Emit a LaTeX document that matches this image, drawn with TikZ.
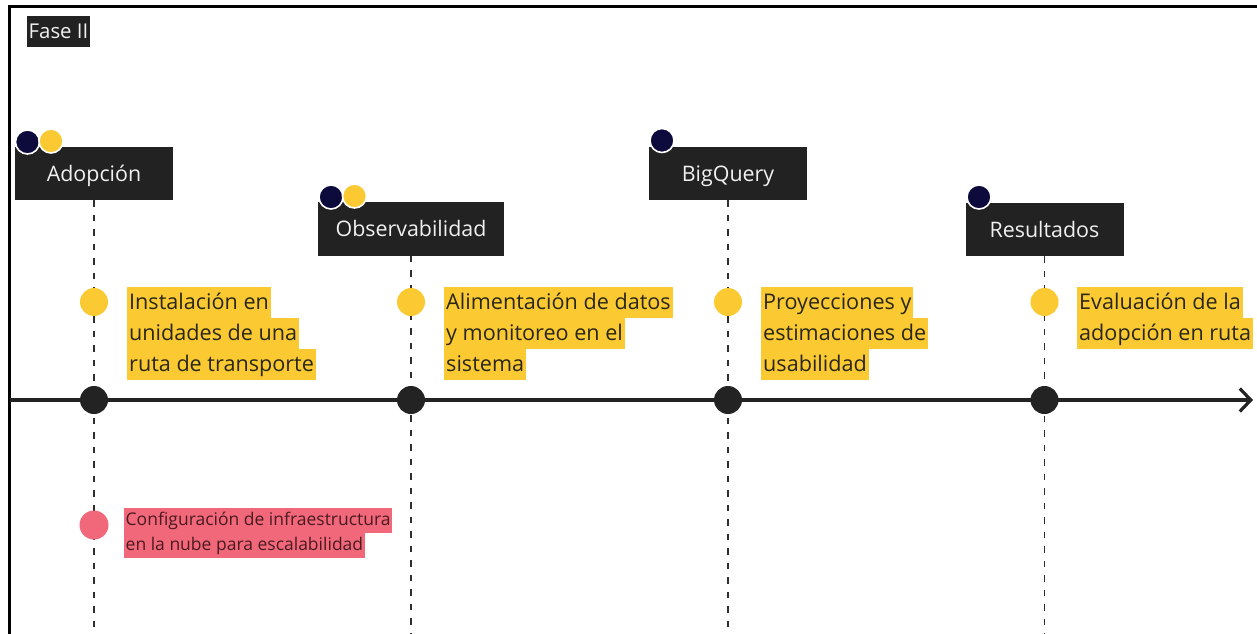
\documentclass[tikz,border=0pt]{standalone}
\usepackage{fontspec}
\setmainfont{Open Sans}
\usetikzlibrary{arrows.meta}

\definecolor{boxdark}{HTML}{222222}
\definecolor{dotdark}{HTML}{232323}
\definecolor{navy}{HTML}{0C0B3C}
\definecolor{hlyellow}{HTML}{FBCA33}
\definecolor{hlpink}{HTML}{F1687B}
\definecolor{inkdark}{HTML}{2A2718}
\definecolor{inkred}{HTML}{4A1A20}
\definecolor{dashgrey}{HTML}{2E2E2E}

\begin{document}
\begin{tikzpicture}[x=1pt, y=-1pt,
  hdr/.style={fill=boxdark, text=white!94!black, inner sep=0pt,
    minimum height=53.5pt, minimum width=158pt,
    text height=15pt, text depth=0pt, font=\fontsize{21.4}{25}\selectfont},
  tag/.style={fill=boxdark, text=white!94!black, inner sep=1.5pt,
    minimum height=31pt, text height=14pt, text depth=0pt,
    font=\fontsize{20.4}{24}\selectfont},
  ytxt/.style={anchor=west, fill=hlyellow, text=inkdark, inner xsep=2pt,
    inner ysep=0pt, text height=22.2pt, text depth=9.2pt,
    font=\fontsize{21.6}{25}\selectfont},
  rtxt/.style={anchor=west, fill=hlpink, text=inkred, inner xsep=1.5pt,
    inner ysep=0pt, text height=17.6pt, text depth=7.6pt,
    font=\fontsize{17.5}{21}\selectfont},
  bigdot/.style={circle, fill=dotdark, inner sep=0pt, minimum size=28pt},
  ydot/.style={circle, fill=hlyellow, inner sep=0pt, minimum size=28pt},
  pdot/.style={circle, fill=hlpink, inner sep=0pt, minimum size=29pt},
  navydot/.style={circle, fill=navy, draw=white, line width=1.6pt,
    inner sep=0pt, minimum size=24pt},
  golddot/.style={circle, fill=hlyellow, draw=white, line width=1.6pt,
    inner sep=0pt, minimum size=24pt},
  dashline/.style={draw=dashgrey, line width=1.9pt, dash pattern=on 6.5pt off 8pt},
]
\useasboundingbox (0,0) rectangle (1257,633);
\begin{scope}
\clip (0,0) rectangle (1257,633);

% outer frame (only its top and left edges fall inside the page)
\draw[line width=3pt] (9.5,6.5) rectangle (1300,700);

% title tag
\node[tag] (fase) at (58.5,31) {Fase II};

% phase headers
\node[hdr] (h1) at (94,173.5) {Adopción};
\node[hdr, minimum width=186pt] (h2) at (411,229) {Observabilidad};
\node[hdr] (h3) at (728,173.5) {BigQuery};
\node[hdr] (h4) at (1044.5,229.5) {Resultados};

% ends of the dashed guide lines below the page edge
\coordinate (b1) at (94,645);
\coordinate (b2) at (411,645);
\coordinate (b3) at (728,645);
\coordinate (b4) at (1044.5,645);

\draw[dashline] (h1.south) -- (b1);
\draw[dashline] (h2.south) -- (b2);
\draw[dashline] (h3.south) -- (b3);
\draw[dashline] (h4.south) -- (b4);

% time axis
\coordinate (axstart) at (9.5,400);
\coordinate (axend) at (1253,400);
\draw[line width=3.8pt, draw=dotdark,
  -{Straight Barb[length=11pt, width=23pt, line width=3.2pt]}] (axstart) -- (axend);

% milestones on the axis
\node[bigdot] (k1) at (94,400) {};
\node[bigdot] (k2) at (411,400) {};
\node[bigdot] (k3) at (728,400) {};
\node[bigdot] (k4) at (1044.5,400) {};

% task markers
\node[ydot] (y1) at (94,302) {};
\node[ydot] (y2) at (411,302) {};
\node[ydot] (y3) at (728,302) {};
\node[ydot] (y4) at (1044.5,302) {};
\node[pdot] (r1) at (94,525) {};

% team badges
\node[navydot] (n1) at (27.5,142) {};
\node[golddot] (g1) at (51,141) {};
\node[navydot] (n2) at (331,197) {};
\node[golddot] (g2) at (354.5,196) {};
\node[navydot] (n3) at (662,140.5) {};
\node[navydot] (n4) at (979,197) {};

% task descriptions
\node[ytxt] (t1a) at (127,302.5) {Instalación en};
\node[ytxt] (t1b) at (127,333.5) {unidades de una};
\node[ytxt] (t1c) at (127,364.5) {ruta de transporte};

\node[ytxt] (t2a) at (444,302.5) {Alimentación de datos};
\node[ytxt] (t2b) at (444,333.5) {y monitoreo en el};
\node[ytxt] (t2c) at (444,364.5) {sistema};

\node[ytxt] (t3a) at (761,302.5) {Proyecciones y};
\node[ytxt] (t3b) at (761,333.5) {estimaciones de};
\node[ytxt] (t3c) at (761,364.5) {usabilidad};

\node[ytxt] (t4a) at (1077,302.5) {Evaluación de la};
\node[ytxt] (t4b) at (1077,333.5) {adopción en ruta};

\node[rtxt] (p1a) at (124,520.5) {Configuración de infraestructura};
\node[rtxt] (p1b) at (124,545.5) {en la nube para escalabilidad};
\end{scope}
\end{tikzpicture}
\end{document}
